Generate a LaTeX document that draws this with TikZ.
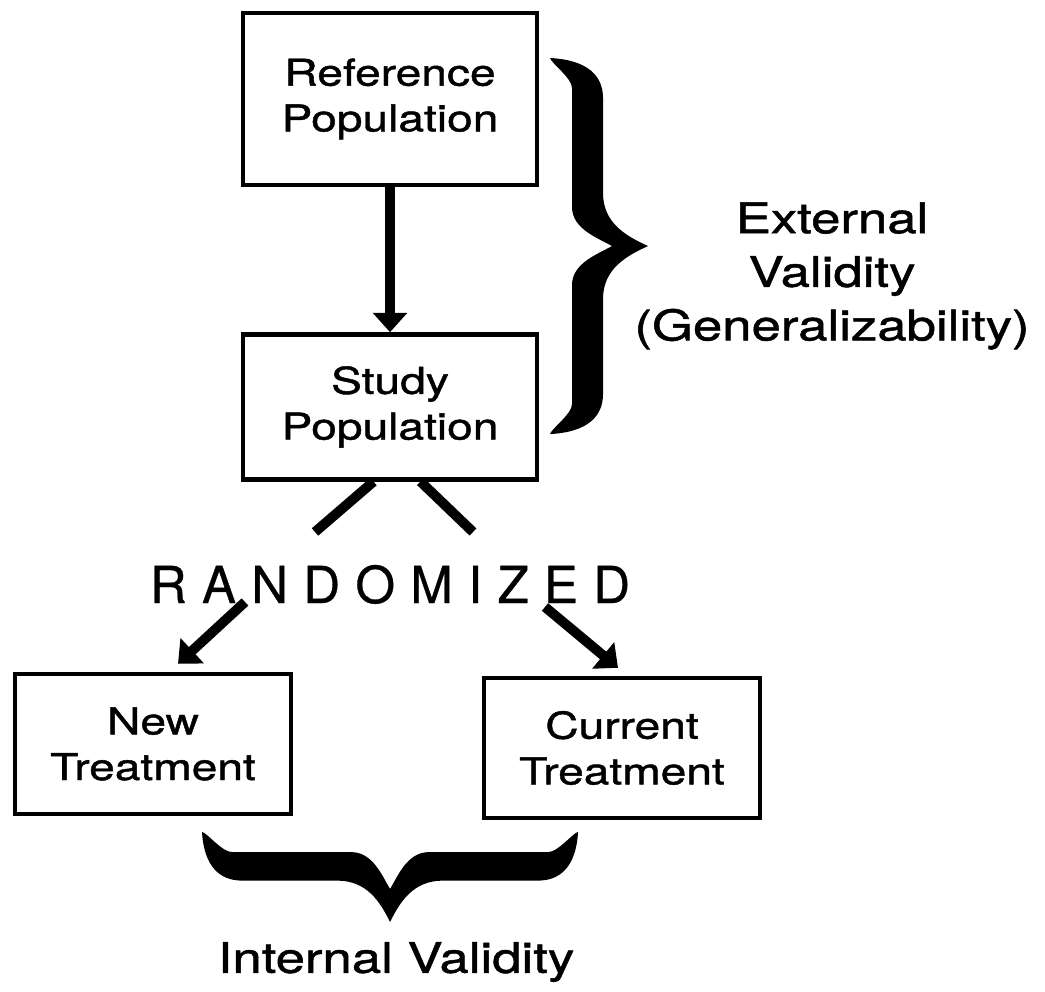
\documentclass[tikz,border=0pt]{standalone}
\usepackage{fontspec}
\setmainfont{TeX Gyre Heros}[FakeStretch=1.25, FakeBold=1.2]
\newfontfamily\randfont{TeX Gyre Heros}[LetterSpace=30, FakeBold=0.6]
\usepackage{tikz}
\usetikzlibrary{arrows.meta, positioning}

\begin{document}
\begin{tikzpicture}[line join=miter]

		\tikzset{
			popbox/.style={
					draw, line width=2.5pt, inner sep=0pt, align=center, minimum width=5.88cm, font=\fontsize{21}{26}\selectfont
				},
			armbox/.style={
					draw, line width=2.5pt, inner sep=0pt, align=center, minimum width=5.52cm, minimum height=2.8cm, font=\fontsize{21}{26}\selectfont
				},
			bigarrow/.style={
					line width=5.6pt, -{Triangle[width=19pt, length=11pt]}
				},
			fork/.style={
					line width=5.6pt
				},
			lbl/.style={
					align=center, inner sep=0pt, font=\fontsize{24}{30.5}\selectfont
				},
			cbrace/.pic={
					\fill (0,2) .. controls (2,40) and (18,55) .. (40,55) -- (135,55)
						.. controls (165,55) and (178,78) .. (188,100)
						.. controls (198,78) and (211,55) .. (241,55) -- (336,55)
						.. controls (358,55) and (374,40) .. (376,2)
						.. controls (370,4) and (356,24) .. (346,24) -- (227,24)
						.. controls (205,24) and (196,50) .. (188,64)
						.. controls (180,50) and (171,24) .. (149,24) -- (30,24)
						.. controls (20,24) and (6,4) .. (0,2) -- cycle;
				},
		}

		\useasboundingbox (0,0) rectangle (20.9,-19.84);

		\node[popbox, minimum height=3.44cm] (ref) at (7.8,-1.98) {Reference\\Population};
		\node[popbox, minimum height=2.9cm, below=2.9cm of ref] (study) {Study\\Population};
		\node[inner sep=0pt, font={\randfont\fontsize{29}{30}\selectfont}, below=1.66cm of study] (rand) {RANDOMIZED};
		\node[armbox] (newt) at (3.06,-14.88) {New\\Treatment};
		\node[armbox] (curt) at (12.44,-14.96) {Current\\Treatment};

		\node[lbl] (ext) at (16.64,-5.52) {External\\Validity\\(Generalizability)};
		\node[lbl] (intl) at (7.92,-19.24) {Internal Validity};

		\coordinate (forkl) at (6.3,-10.64);
		\coordinate (forkr) at (9.46,-10.64);
		\coordinate (randl) at (4.9,-12.04);
		\coordinate (randr) at (10.9,-12.14);

		\draw[bigarrow] (ref.south) -- (ref.south |- study.north);

		\draw[fork] ([xshift=-0.33cm]study.south) -- (forkl);
		\draw[fork] ([xshift=0.61cm]study.south) -- (forkr);

		\draw[bigarrow] (randl) -- ([xshift=0.5cm, yshift=0.16cm]newt.north);
		\draw[bigarrow] (randr) -- ([xshift=-0.08cm, yshift=0.16cm]curt.north);

		\pic[rotate=-90, scale=0.02] at (10.96,-1.16) {cbrace};
		\pic[scale=0.02, yscale=-0.92] at (4.04,-16.6) {cbrace};

	\end{tikzpicture}
\end{document}
